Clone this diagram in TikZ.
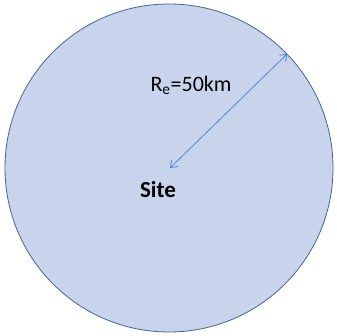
\documentclass[tikz,border=0pt]{standalone}
\usepackage{fontspec}
\setmainfont{Carlito}
\usetikzlibrary{positioning,arrows.meta}
\definecolor{zonefill}{RGB}{200,212,236}
\definecolor{zoneedge}{RGB}{70,100,150}
\definecolor{radline}{RGB}{85,135,205}

\begin{document}
\begin{tikzpicture}[
  x=1pt,y=1pt,
  zone/.style={circle,draw=zoneedge,fill=zonefill,line width=0.8pt,minimum size=328pt,inner sep=0pt},
  lbl/.style={font=\fontsize{22}{26}\selectfont,inner sep=1pt},
  ar/.style={{Straight Barb[length=6pt,width=9pt]}-{Straight Barb[length=6pt,width=9pt]},draw=radline,line width=0.8pt}
]
\useasboundingbox (0,0) rectangle (336,336);
\node[zone] (zone) at (169,168) {};
\coordinate (ctr) at (170,168);
\coordinate (rim) at (zone.44);
\node[lbl,font=\fontsize{23}{27}\selectfont\bfseries] (site) at (158,146) {Site};
\node[lbl] (re) at (191,251) {R\textsubscript{e}=50km};

\draw[ar] (ctr) -- (rim);
\end{tikzpicture}
\end{document}
